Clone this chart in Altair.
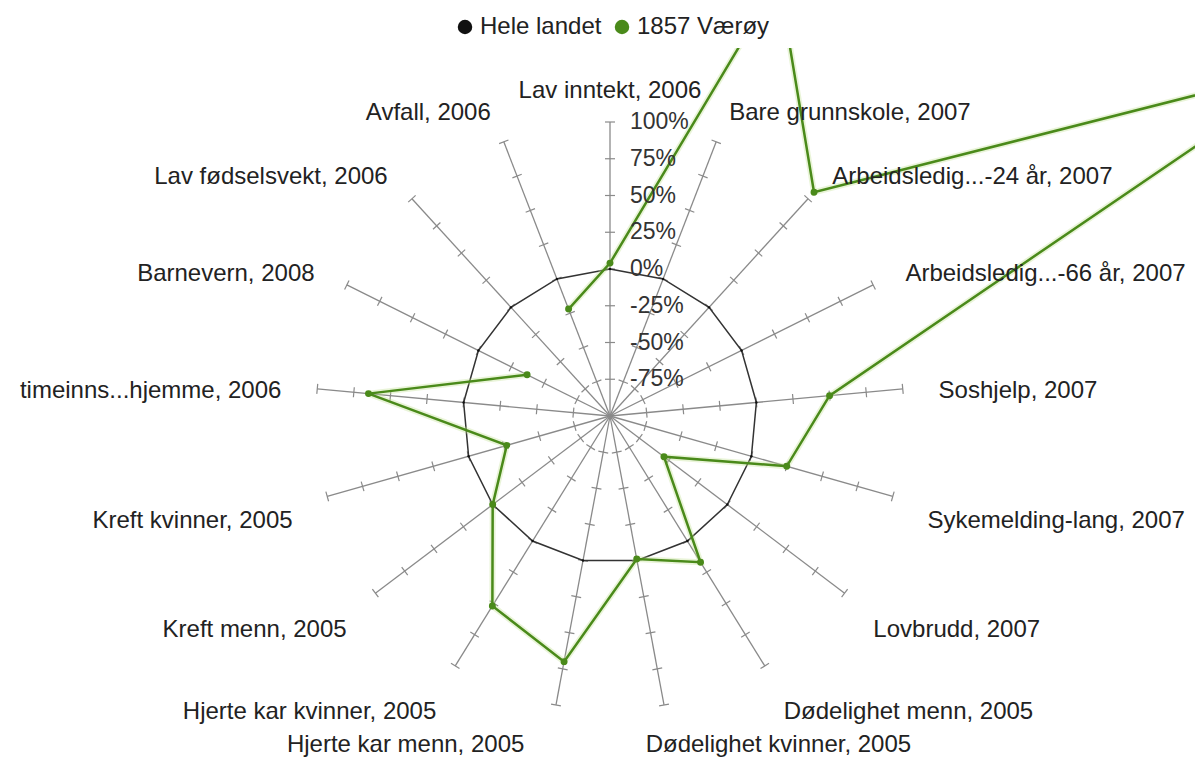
import altair as alt
import pandas as pd

# ---------------- data ----------------
categories = [
    "Lav inntekt, 2006", "Bare grunnskole, 2007", "Arbeidsledig...-24 år, 2007",
    "Arbeidsledig...-66 år, 2007", "Soshjelp, 2007", "Sykemelding-lang, 2007",
    "Lovbrudd, 2007", "Dødelighet menn, 2005", "Dødelighet kvinner, 2005",
    "Hjerte kar menn, 2005", "Hjerte kar kvinner, 2005", "Kreft menn, 2005",
    "Kreft kvinner, 2005", "timeinns...hjemme, 2006", "Barnevern, 2008",
    "Lav fødselsvekt, 2006", "Avfall, 2006",
]
hele_landet = [0, 0, 0, 0, 0, 0, 0, 0, 0, 0, 0, 0, 0, 0, 0, 0, 0]
vaeroy = [4, 218, 106, 436, 50, 25, -54, 17, -1, 70, 52, 0, -27, 65, -37, None, -22]
series_names = ["Hele landet", "1857 Værøy"]
series_colors = ["#111111", "#4a8a1a"]
tick_values = [-75, -50, -25, 0, 25, 50, 75, 100]
tick_labels = ["-75%", "-50%", "-25%", "0%", "25%", "50%", "75%", "100%"]

N = len(categories)
PX = 147.0  # pixels per radius unit (0% ring)

cat_df = pd.DataFrame({"i": list(range(N)), "label": categories})
series_df = pd.DataFrame({
    "i": list(range(N)) * 2,
    "series": [series_names[0]] * N + [series_names[1]] * N,
    "value": hele_landet + vaeroy,
})
tick_df = pd.DataFrame([
    {"i": i, "v": v, "pct": lab}
    for i in range(N) for v, lab in zip(tick_values, tick_labels)
])

# ---------------- scales ----------------
xdom = [-602 / PX, (1187 - 602) / PX]
ydom = [-(709 - 368) / PX, 368 / PX]
xs = alt.Scale(domain=xdom, nice=False, zero=False)
ys = alt.Scale(domain=ydom, nice=False, zero=False)


def X(f):
    return alt.X(f + ":Q", scale=xs, axis=None)


def Y(f):
    return alt.Y(f + ":Q", scale=ys, axis=None)


ang = f"datum.i * 2 * PI / {N}"

# spokes
spokes = alt.Chart(cat_df).transform_calculate(
    a=ang, x0="0", y0="0",
    x1="2 * sin(datum.a)", y1="2 * cos(datum.a)",
).mark_rule(color="#8a8a8a", strokeWidth=1.3).encode(
    x=X("x0"), y=Y("y0"), x2="x1:Q", y2="y1:Q"
)

# ticks on spokes
h = 5.0 / PX
ticks = alt.Chart(tick_df).transform_calculate(
    a=ang, r="1 + datum.v / 100",
    cx="datum.r * sin(datum.a)", cy="datum.r * cos(datum.a)",
    tx1=f"datum.cx - {h} * cos(datum.a)", ty1=f"datum.cy + {h} * sin(datum.a)",
    tx2=f"datum.cx + {h} * cos(datum.a)", ty2=f"datum.cy - {h} * sin(datum.a)",
).mark_rule(color="#8a8a8a", strokeWidth=1.2).encode(
    x=X("tx1"), y=Y("ty1"), x2="tx2:Q", y2="ty2:Q"
)

polar = dict(
    a=ang, r="1 + datum.value / 100",
    px="datum.r * sin(datum.a)", py="datum.r * cos(datum.a)",
    o=f"(datum.i + 1) % {N}",
)

ring = alt.Chart(series_df).transform_filter(
    f"datum.series == '{series_names[0]}'"
).transform_calculate(**polar).mark_line(
    interpolate="linear-closed", color="#333333", strokeWidth=1.5
).encode(x=X("px"), y=Y("py"), order="i:Q")

green_base = alt.Chart(series_df).transform_filter(
    f"datum.series == '{series_names[1]}' && isValid(datum.value)"
).transform_calculate(**polar)

glow = green_base.mark_line(clip=True, color="#bfe08f", strokeWidth=6, opacity=0.35).encode(
    x=X("px"), y=Y("py"), order="o:Q"
)
gline = green_base.mark_line(clip=True, color=series_colors[1], strokeWidth=2.5).encode(
    x=X("px"), y=Y("py"), order="o:Q"
)

points = alt.Chart(series_df).transform_filter(
    "isValid(datum.value)"
).transform_calculate(**polar).mark_point(filled=True, opacity=1, clip=True).encode(
    x=X("px"), y=Y("py"),
    color=alt.Color(
        "series:N",
        scale=alt.Scale(domain=series_names, range=series_colors),
        legend=alt.Legend(
            orient="none", legendX=445, legendY=-33, direction="horizontal",
            title=None, symbolType="circle", symbolSize=210, symbolStrokeWidth=0,
            labelFont="Liberation Sans", labelFontSize=24, labelColor="#222222",
            labelOffset=3, columnPadding=8, padding=0,
        ),
    ),
    size=alt.condition(f"datum.series == '{series_names[0]}'", alt.value(6), alt.value(48)),
)

# percent labels along the first spoke
pct = alt.Chart(tick_df).transform_filter("datum.i == 0").transform_calculate(
    lx=f"20 / {PX}", ly="1 + datum.v / 100"
).mark_text(
    align="left", baseline="middle", font="Liberation Sans", fontSize=23, color="#333333"
).encode(x=X("lx"), y=Y("ly"), text="pct:N")

# category labels
R = 330 / PX
lab_base = alt.Chart(cat_df).transform_calculate(
    a=ang,
    s="sin(datum.a)", c="cos(datum.a)",
    lx=f"{R} * datum.s - (datum.c < -0.9 ? 25 / {PX} : 0)",
    ly=f"{R} * datum.c + (datum.c >= 0 ? -5 / {PX} : (datum.c < -0.9 ? 5 / {PX} : 15 / {PX}) * -1)",
)
txt = dict(baseline="middle", font="Liberation Sans", fontSize=24, color="#222222")
lab_right = lab_base.transform_filter("datum.s > 0.05").mark_text(align="left", **txt).encode(
    x=X("lx"), y=Y("ly"), text="label:N")
lab_left = lab_base.transform_filter("datum.s < -0.05").mark_text(align="right", **txt).encode(
    x=X("lx"), y=Y("ly"), text="label:N")
lab_top = lab_base.transform_filter("abs(datum.s) <= 0.05").mark_text(align="center", **txt).encode(
    x=X("lx"), y=Y("ly"), text="label:N")

chart = alt.layer(
    spokes, ticks, ring, glow, gline, points, pct, lab_right, lab_left, lab_top
).properties(
    width=1187, height=709,
    padding={"top": 40, "left": 0, "right": 0, "bottom": 0},
    autosize=alt.AutoSizeParams(type="none"),
).configure_view(strokeWidth=0)

chart.save("out.html", embed_options={"renderer": "svg", "actions": False})
